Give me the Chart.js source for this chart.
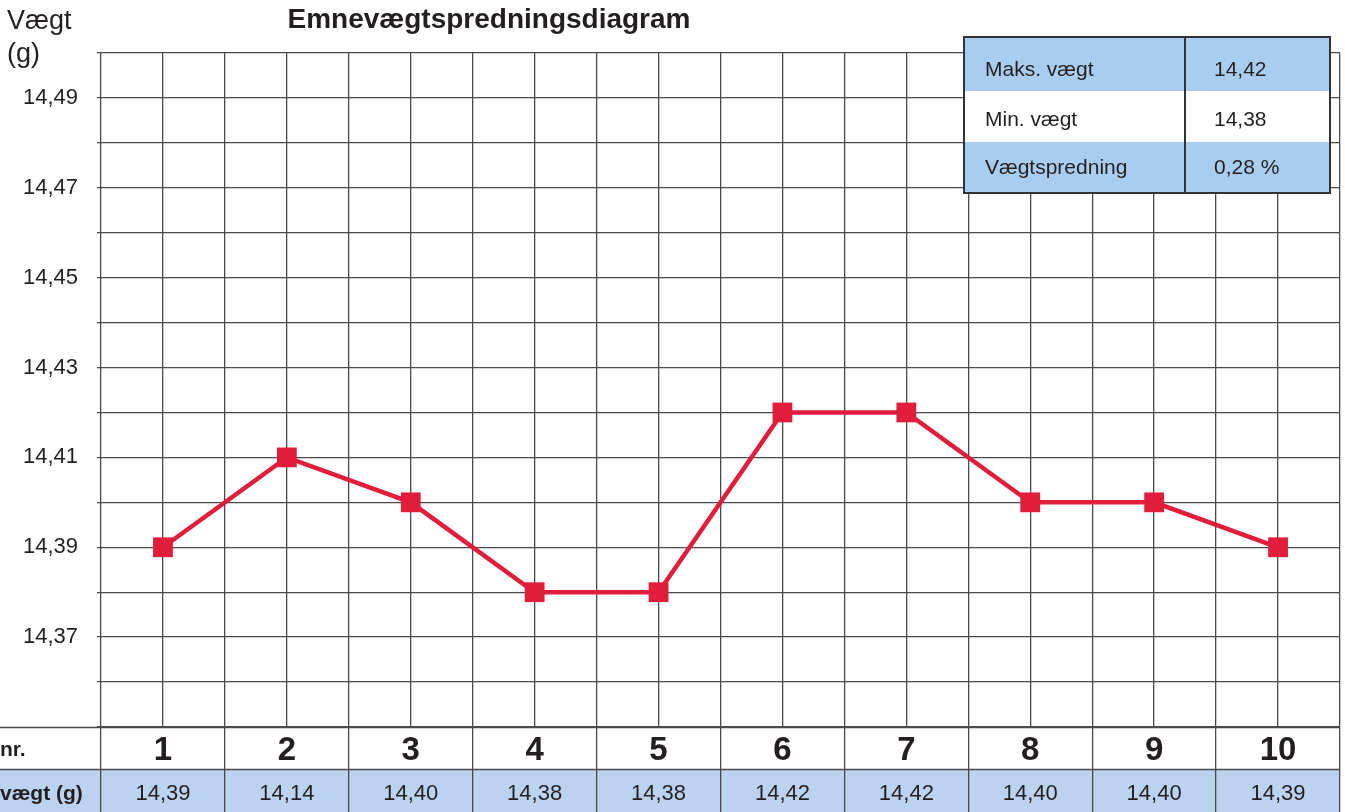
<!DOCTYPE html>
<html>
<head>
<meta charset="utf-8">
<script src="https://cdn.jsdelivr.net/npm/chart.js@4/dist/chart.umd.min.js"></script>
<style>
  html, body { margin: 0; padding: 0; background: #fff; }
  #wrap { width: 1345px; height: 812px; position: relative; }
</style>
</head>
<body>
<div id="wrap"><canvas id="c" width="1345" height="812"></canvas></div>
<script>
// ---- Data ----
const categories = [1, 2, 3, 4, 5, 6, 7, 8, 9, 10];
const weights = [14.39, 14.41, 14.40, 14.38, 14.38, 14.42, 14.42, 14.40, 14.40, 14.39];
const tableWeights = ['14,39', '14,14', '14,40', '14,38', '14,38', '14,42', '14,42', '14,40', '14,40', '14,39'];
const yLabelValues = [14.37, 14.39, 14.41, 14.43, 14.45, 14.47, 14.49];
const statLabels = ['Maks. vægt', 'Min. vægt', 'Vægtspredning'];
const statValues = ['14,42', '14,38', '0,28 %'];
const titleText = 'Emnevægtspredningsdiagram';
const yTitle = ['Vægt', '(g)'];
const rowLabels = ['nr.', 'vægt (g)'];

const FONT = '"Liberation Sans", Arial, Helvetica, sans-serif';
const TXT = '#231f20';
const GRID = '#4a4a4a';
const RED = '#e01e3c';

const decorPlugin = {
  id: 'decor',
  beforeDraw(chart) {
    const ctx = chart.ctx;
    const x = chart.scales.x;
    const ca = chart.chartArea;
    ctx.save();
    ctx.fillStyle = '#fff';
    ctx.fillRect(0, 0, chart.width, chart.height);
    ctx.fillStyle = '#bcd3ef';
    const rowTop = ca.bottom + 42;
    ctx.fillRect(0, rowTop, x.getPixelForValue(10.5), chart.height - rowTop);
    ctx.restore();
  },
  afterDraw(chart) {
    const ctx = chart.ctx;
    const x = chart.scales.x;
    const ca = chart.chartArea;
    const right = x.getPixelForValue(10.5);
    ctx.save();
    ctx.strokeStyle = GRID;
    ctx.lineWidth = 1.3;
    ctx.beginPath();
    ctx.moveTo(0, Math.round(ca.bottom) + 0.5); ctx.lineTo(right, Math.round(ca.bottom) + 0.5);
    ctx.moveTo(0, Math.round(ca.bottom + 42) + 0.5); ctx.lineTo(right, Math.round(ca.bottom + 42) + 0.5);
    ctx.stroke();

    ctx.fillStyle = TXT;
    ctx.textAlign = 'center';
    ctx.textBaseline = 'middle';
    ctx.font = 'bold 33px ' + FONT;
    categories.forEach(c => ctx.fillText(String(c), x.getPixelForValue(c), ca.bottom + 24));
    ctx.font = '22px ' + FONT;
    categories.forEach((c, i) => ctx.fillText(tableWeights[i], x.getPixelForValue(c), ca.bottom + 67));
    ctx.textAlign = 'left';
    ctx.font = 'bold 21px ' + FONT;
    ctx.fillText(rowLabels[0], 0, ca.bottom + 23);
    ctx.fillText(rowLabels[1], 0, ca.bottom + 67);

    ctx.textAlign = 'center';
    ctx.textBaseline = 'alphabetic';
    ctx.font = 'bold 28px ' + FONT;
    ctx.fillText(titleText, 489, 28);

    ctx.textAlign = 'left';
    ctx.font = '27px ' + FONT;
    ctx.fillText(yTitle[0], 7, 29);
    ctx.fillText(yTitle[1], 7, 62);

    const bx = 964, by = 37, bw = 366, bh = 156, div = 1185;
    const rh = [54, 51, 51];
    const ty = [70, 120, 168];
    const fills = ['#a8cdee', '#ffffff', '#a8cdee'];
    let yy = by;
    ctx.font = '21px ' + FONT;
    ctx.textBaseline = 'middle';
    statLabels.forEach((lab, i) => {
      ctx.fillStyle = fills[i];
      ctx.fillRect(bx, yy, bw, rh[i]);
      ctx.fillStyle = TXT;
      ctx.fillText(lab, 985, ty[i]);
      ctx.fillText(statValues[i], 1214, ty[i]);
      yy += rh[i];
    });
    ctx.strokeStyle = '#333';
    ctx.lineWidth = 2;
    ctx.strokeRect(bx, by, bw, bh);
    ctx.beginPath();
    ctx.moveTo(div, by); ctx.lineTo(div, by + bh);
    ctx.stroke();
    ctx.restore();
  }
};

new Chart(document.getElementById('c'), {
  type: 'line',
  data: {
    datasets: [{
      data: categories.map((c, i) => ({ x: c, y: weights[i] })),
      borderColor: RED,
      backgroundColor: RED,
      borderWidth: 4.5,
      pointStyle: 'rect',
      pointRadius: 14,
      pointHoverRadius: 14,
      pointBorderWidth: 0,
      tension: 0,
      clip: false
    }]
  },
  options: {
    responsive: false,
    animation: false,
    events: [],
    layout: { autoPadding: false, padding: { left: 0, right: 5, top: 53, bottom: 0 } },
    plugins: { legend: { display: false }, tooltip: { enabled: false }, title: { display: false } },
    scales: {
      x: {
        type: 'linear',
        min: 0.5,
        max: 10.5,
        ticks: { stepSize: 0.5, display: false },
        border: { display: false },
        grid: {
          color: GRID,
          lineWidth: 1.3,
          drawTicks: true,
          tickLength: 85,
          tickColor: (ctx) => (ctx.tick && Math.abs(ctx.tick.value % 1 - 0.5) < 1e-6) ? GRID : 'rgba(0,0,0,0)'
        },
        afterFit(scale) { scale.height = 85; }
      },
      y: {
        type: 'linear',
        min: 14.35,
        max: 14.50,
        ticks: {
          stepSize: 0.01,
          padding: 19,
          color: TXT,
          font: { family: FONT, size: 22 },
          callback: (v) => {
            const k = Math.round(v * 100);
            return yLabelValues.some(t => Math.round(t * 100) === k) ? (k / 100).toFixed(2).replace('.', ',') : '';
          }
        },
        border: { display: false },
        grid: { color: GRID, lineWidth: 1.3, drawTicks: true, tickLength: 4, tickColor: GRID },
        afterFit(scale) { scale.width = 101; }
      }
    }
  },
  plugins: [decorPlugin]
});
</script>
</body>
</html>
